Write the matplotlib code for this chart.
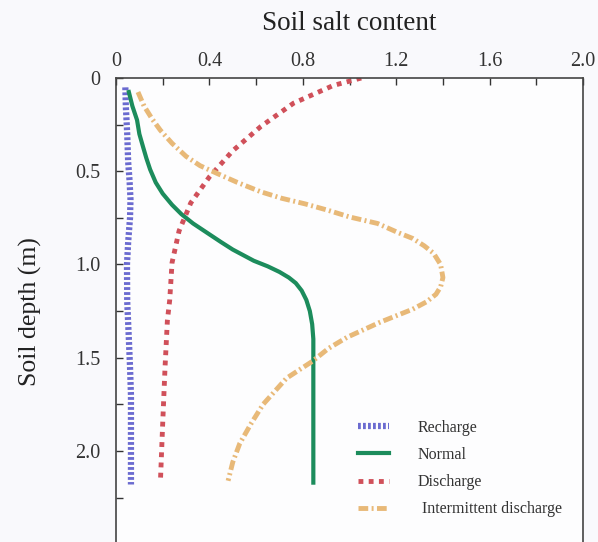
import matplotlib
matplotlib.use('Agg')
import matplotlib.pyplot as plt
from matplotlib.ticker import MultipleLocator

plt.rcParams['font.family'] = ['Liberation Serif', 'DejaVu Serif']

# 各剖面的含盐量 (x) 与深度 (m)
recharge_x = [0.040, 0.042, 0.048, 0.052, 0.058, 0.062, 0.060, 0.052, 0.047, 0.048, 0.055, 0.060, 0.064, 0.064, 0.064]
recharge_d = [0.05, 0.15, 0.30, 0.45, 0.55, 0.65, 0.75, 0.88, 1.00, 1.20, 1.40, 1.55, 1.70, 1.95, 2.18]

normal_x = [0.055, 0.070, 0.090, 0.100, 0.116, 0.130, 0.146, 0.170, 0.200, 0.240, 0.280, 0.330,
            0.390, 0.450, 0.500, 0.545, 0.590, 0.650, 0.700, 0.740, 0.770, 0.795, 0.815,
            0.830, 0.840, 0.845, 0.845]
normal_d = [0.075, 0.15, 0.225, 0.30, 0.37, 0.43, 0.49, 0.56, 0.62, 0.68, 0.73, 0.78,
            0.83, 0.88, 0.92, 0.95, 0.98, 1.01, 1.04, 1.07, 1.10, 1.14, 1.19,
            1.25, 1.32, 1.40, 2.17]

discharge_x = [1.05, 0.93, 0.76, 0.62, 0.50, 0.40, 0.32, 0.27, 0.24, 0.23, 0.22, 0.21, 0.20, 0.19]
discharge_d = [0.00, 0.04, 0.135, 0.26, 0.39, 0.53, 0.67, 0.82, 0.99, 1.19, 1.30, 1.55, 1.85, 2.17]

inter_x = [0.094, 0.12, 0.155, 0.19, 0.24, 0.30, 0.36, 0.43, 0.52, 0.62, 0.71, 0.81, 0.91,
           1.00, 1.12, 1.21, 1.27, 1.32, 1.36, 1.39, 1.40, 1.39, 1.37, 1.33, 1.27,
           1.13, 0.99, 0.91, 0.84, 0.73, 0.68, 0.63, 0.58, 0.53, 0.50, 0.48]
inter_d = [0.075, 0.15, 0.22, 0.28, 0.35, 0.42, 0.47, 0.51, 0.56, 0.61, 0.645, 0.675, 0.71,
           0.745, 0.78, 0.83, 0.86, 0.90, 0.94, 1.00, 1.07, 1.12, 1.16, 1.20, 1.24,
           1.31, 1.39, 1.45, 1.52, 1.61, 1.68, 1.75, 1.85, 1.96, 2.06, 2.16]

x_ticks = [0, 0.4, 0.8, 1.2, 1.6, 2.0]
x_tick_labels = ['0', '0.4', '0.8', '1.2', '1.6', '2.0']
y_ticks = [0, 0.5, 1.0, 1.5, 2.0]
y_tick_labels = ['0', '0.5', '1.0', '1.5', '2.0']

fig = plt.figure(figsize=(5.98, 5.42), dpi=100, facecolor='#f9f9fc')
ax = fig.add_axes([0.194, -0.004, 0.781, 0.860])
ax.set_facecolor('#fdfdfe')

ax.plot(recharge_x, recharge_d, color='#6b6bd0', lw=4.5, linestyle=(0, (0.45, 0.35)), label='Recharge')
ax.plot(normal_x, normal_d, color='#1c8c5c', lw=3, label='Normal')
ax.plot(discharge_x, discharge_d, color='#d0505a', lw=3.5, linestyle=(0, (1, 1.1)), label='Discharge')
ax.plot(inter_x, inter_d, color='#e8b978', lw=3.5, linestyle=(0, (2, 0.7, 0.4, 0.7)), label=' Intermittent discharge')

ax.set_xlim(0, 2.0)
ax.set_ylim(2.5, 0)
ax.xaxis.tick_top()
ax.xaxis.set_label_position('top')
ax.set_xticks(x_ticks)
ax.set_xticklabels(x_tick_labels)
ax.xaxis.set_minor_locator(MultipleLocator(0.2))
ax.set_yticks(y_ticks)
ax.set_yticklabels(y_tick_labels)
ax.yaxis.set_minor_locator(MultipleLocator(0.25))
ax.tick_params(which='both', direction='in', labelsize=14.5, colors='#333333', length=5, width=1)
ax.tick_params(axis='x', pad=5)
ax.tick_params(axis='y', pad=11)
for s in ['left', 'top', 'right']:
    ax.spines[s].set_color('#444444')
    ax.spines[s].set_linewidth(1.2)
ax.spines['bottom'].set_visible(False)

ax.set_xlabel('Soil salt content', fontsize=19.5, labelpad=16, color='#222222')
ax.set_ylabel('Soil depth (m)', fontsize=18.5, labelpad=24, color='#222222')

fig.legend(loc='upper left', bbox_to_anchor=(0.586, 0.240), frameon=False, fontsize=11.5,
           handlelength=1.9, handletextpad=1.8, labelspacing=0.7, borderpad=0,
           labelcolor='#333333')

fig.savefig('out.png', dpi=100, facecolor=fig.get_facecolor())
